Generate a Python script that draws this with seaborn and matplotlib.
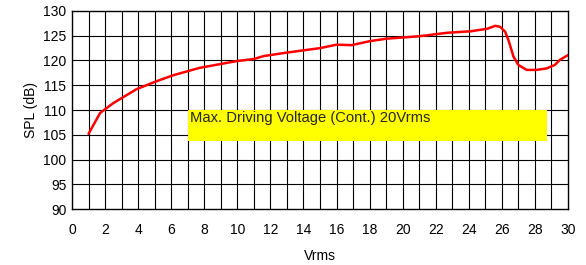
import numpy as np
import pandas as pd
import seaborn as sns
import matplotlib
matplotlib.use("Agg")
import matplotlib.pyplot as plt
from matplotlib.patches import Rectangle

# data
vrms = [1.0, 1.7, 2.5, 3.9, 5.1, 6.1, 7.7, 9.0, 10.0, 11.0, 11.6, 13.0, 15.0,
        16.0, 16.9, 18.0, 19.0, 21.0, 22.7, 24.1, 25.1, 25.6, 25.9, 26.2,
        26.4, 26.7, 27.0, 27.5, 28.1, 28.7, 29.2, 29.5, 30.0]
spl = [105.2, 109.4, 111.4, 114.2, 115.8, 117.0, 118.5, 119.3, 119.9, 120.3,
       120.9, 121.6, 122.5, 123.2, 123.1, 123.9, 124.4, 124.9, 125.6, 125.9,
       126.4, 127.0, 126.8, 125.8, 124.1, 120.8, 119.1, 118.1, 118.1, 118.4,
       119.1, 120.1, 121.1]
note = "Max. Driving Voltage (Cont.) 20Vrms"

df = pd.DataFrame({"Vrms": vrms, "SPL": spl})

sns.set_theme(style="white")
plt.rcParams["font.family"] = ["Liberation Sans", "DejaVu Sans"]

fig = plt.figure(figsize=(5.86, 2.65), dpi=100)
ax = fig.add_axes([0.1229, 0.2113, 0.8464, 0.7472])

# grid: every 1 V, every 5 dB
for xv in range(1, 30):
    ax.axvline(xv, color="black", lw=0.8, zorder=1)
for yv in range(95, 130, 5):
    ax.axhline(yv, color="black", lw=0.8, zorder=1)

# yellow note box
ax.add_patch(Rectangle((7.0, 103.7), 21.7, 6.4, facecolor="#ffff00",
                       edgecolor="none", zorder=2))
ax.text(7.15, 108.4, note, fontsize=10.6, va="center", ha="left", zorder=3)

sns.lineplot(data=df, x="Vrms", y="SPL", color="#ff0000", lw=1.8, ax=ax,
             zorder=4)

ax.set_xlim(0, 30)
ax.set_ylim(90, 130)
ax.set_xticks(range(0, 31, 2))
ax.set_yticks(range(90, 131, 5))
ax.tick_params(labelsize=10, length=0, pad=10, colors="black")
ax.tick_params(axis="y", pad=4)
ax.set_xlabel("Vrms", fontsize=10, color="black")
ax.set_ylabel("SPL (dB)", fontsize=10, labelpad=4, color="black")
ax.xaxis.set_label_coords(0.5, -0.2)
for s in ax.spines.values():
    s.set_color("black")
    s.set_linewidth(1.0)

fig.savefig("out.png", dpi=100)
